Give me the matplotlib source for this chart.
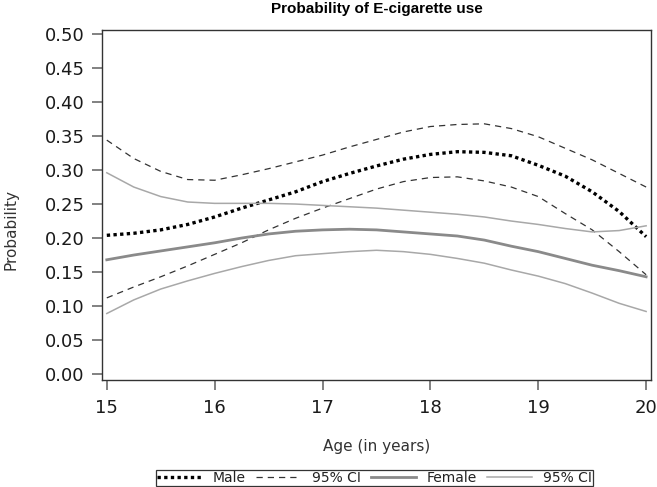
import matplotlib
matplotlib.use("Agg")
import matplotlib.pyplot as plt

# ── data ──────────────────────────────────────────────────────────────────────
age = [15.0, 15.25, 15.5, 15.75, 16.0, 16.25, 16.5, 16.75, 17.0, 17.25, 17.5,
       17.75, 18.0, 18.25, 18.5, 18.75, 19.0, 19.25, 19.5, 19.75, 20.0]

male = [0.204, 0.207, 0.212, 0.220, 0.231, 0.244, 0.256, 0.268, 0.283, 0.295, 0.306,
        0.316, 0.323, 0.327, 0.326, 0.321, 0.307, 0.291, 0.268, 0.239, 0.202]
male_hi = [0.344, 0.317, 0.298, 0.286, 0.285, 0.293, 0.302, 0.312, 0.322, 0.334, 0.345,
           0.356, 0.364, 0.367, 0.368, 0.361, 0.349, 0.332, 0.315, 0.295, 0.275]
male_lo = [0.112, 0.128, 0.143, 0.159, 0.176, 0.193, 0.212, 0.229, 0.244, 0.258, 0.272,
           0.283, 0.289, 0.290, 0.284, 0.275, 0.261, 0.236, 0.212, 0.180, 0.146]

female = [0.168, 0.175, 0.181, 0.187, 0.193, 0.200, 0.206, 0.210, 0.212, 0.213, 0.212,
          0.209, 0.206, 0.203, 0.197, 0.188, 0.180, 0.170, 0.160, 0.152, 0.143]
female_hi = [0.296, 0.275, 0.261, 0.253, 0.251, 0.251, 0.251, 0.250, 0.248, 0.246, 0.244,
             0.241, 0.238, 0.235, 0.231, 0.225, 0.220, 0.214, 0.209, 0.211, 0.218]
female_lo = [0.089, 0.109, 0.125, 0.137, 0.148, 0.158, 0.167, 0.174, 0.177, 0.180, 0.182,
             0.180, 0.176, 0.170, 0.163, 0.153, 0.144, 0.133, 0.119, 0.104, 0.092]

x_ticks = [15, 16, 17, 18, 19, 20]
y_ticks = [0.00, 0.05, 0.10, 0.15, 0.20, 0.25, 0.30, 0.35, 0.40, 0.45, 0.50]

# ── figure ────────────────────────────────────────────────────────────────────
fig = plt.figure(figsize=(6.57, 4.87), dpi=100)
ax = fig.add_axes([0.155, 0.2197, 0.836, 0.7186])

ax.plot(age, male, color="black", lw=2.4, ls=(0, (1, 1)), label="Male")
ax.plot(age, male_hi, color="#333333", lw=0.9, ls=(0, (5, 4)), label="95% CI")
ax.plot(age, male_lo, color="#333333", lw=0.9, ls=(0, (5, 4)))
ax.plot(age, female, color="#8a8a8a", lw=2.0, label="Female")
ax.plot(age, female_hi, color="#a8a8a8", lw=1.1, label="95% CI")
ax.plot(age, female_lo, color="#a8a8a8", lw=1.1)

ax.set_xlim(14.954, 20.046)
ax.set_ylim(-0.0088, 0.5059)
ax.set_xticks(x_ticks)
ax.set_xticklabels([str(t) for t in x_ticks])
ax.set_yticks(y_ticks)
ax.set_yticklabels([f"{t:.2f}" for t in y_ticks])

ax.tick_params(direction="out", length=7.5, width=1.3, color="#777777",
               labelsize=13, labelcolor="#1a1a1a")
ax.tick_params(axis="x", pad=6)
ax.tick_params(axis="y", pad=5)
for sp in ax.spines.values():
    sp.set_color("#333333")
    sp.set_linewidth(1.0)

ax.set_xlabel("Age (in years)", fontsize=11, color="#333333", labelpad=16)
ax.set_ylabel("Probability", fontsize=11, color="#333333")
ax.yaxis.set_label_coords(-0.152, 0.43)
ax.set_title("Probability of E-cigarette use", fontsize=11, fontweight="bold",
             family="Liberation Sans", pad=12)

leg = fig.legend(loc="lower center", bbox_to_anchor=(0.570, 0.0), ncol=4,
                 fontsize=10, frameon=True, fancybox=False, handlelength=3.2,
                 handletextpad=0.8, columnspacing=0.75, borderpad=0.1,
                 borderaxespad=0.05)
leg.get_frame().set_edgecolor("black")
leg.get_frame().set_linewidth(0.9)
for t in leg.get_texts():
    t.set_color("#222222")

fig.savefig("out.png", dpi=100)
